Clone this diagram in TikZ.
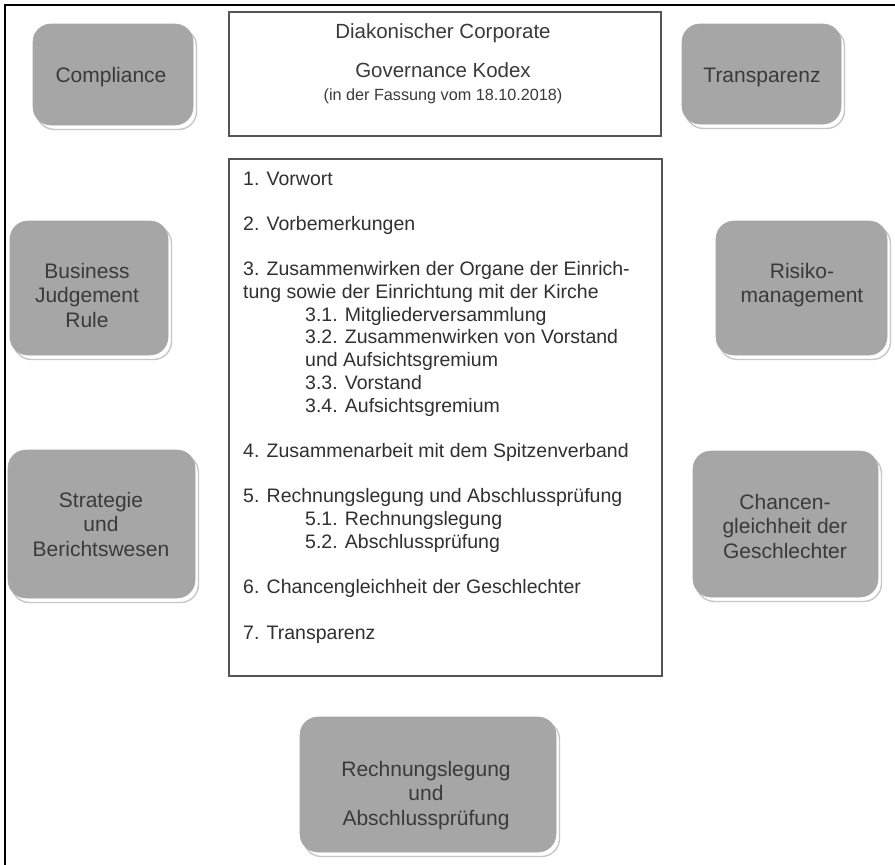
\documentclass[tikz,border=0pt]{standalone}
\usepackage{fontspec}
\setmainfont{Liberation Sans}
\usetikzlibrary{shadows}
\definecolor{boxgray}{HTML}{A6A6A6}
\definecolor{boxtext}{HTML}{3A3A3A}
\definecolor{listtext}{HTML}{303030}
\definecolor{framegray}{HTML}{555555}
\tikzset{
  graybox/.style={rounded corners=18pt, fill=boxgray, draw=black!35, line width=0.6pt,
    inner sep=0pt,
    copy shadow={shadow xshift=3.5pt, shadow yshift=-4.5pt, fill=white, draw=black!22, line width=1.4pt}},
  graylabel/.style={anchor=base, inner sep=0pt, text=boxtext,
    font=\fontsize{21}{24.5}\selectfont},
  whitebox/.style={draw=framegray, line width=1.3pt, fill=white, inner sep=0pt},
  listlabel/.style={anchor=base west, inner sep=0pt, text=listtext,
    font=\fontsize{19.5}{22.7}\selectfont},
}
\begin{document}
\begin{tikzpicture}[x=1pt,y=-1pt]
\useasboundingbox (0,0) rectangle (895,865);
\fill[white] (0,0) rectangle (895,865);
% frame
\coordinate (fbl) at (5,865);
\coordinate (ftl) at (5,5);
\coordinate (ftr) at (895,5);
\draw[line width=2pt, line cap=rect] (fbl) -- (ftl) -- (ftr);

% title box
\node[whitebox, minimum width=432pt, minimum height=124pt] (titlebox) at (445,74) {};
\node[anchor=base, inner sep=0pt, text=boxtext, font=\fontsize{20.5}{24}\selectfont] (title) at (443,38)
  {\begin{tabular}[t]{@{}c@{}}
   Diakonischer Corporate\\[15pt]
   Governance Kodex\\[-1pt]
   \fontsize{16.2}{19}\selectfont (in der Fassung vom 18.10.2018)
   \end{tabular}};

% list box
\node[whitebox, minimum width=433pt, minimum height=517pt] (listbox) at (445.5,417.5) {};
\node[listlabel] (list) at (243,185)
  {\begin{tabular}[t]{@{}l@{}}
   1. Vorwort\\
   \\
   2. Vorbemerkungen\\
   \\
   3. Zusammenwirken der Organe der Einrich-\\
   tung sowie der Einrichtung mit der Kirche\\
   \hspace*{62pt}3.1. Mitgliederversammlung\\
   \hspace*{62pt}3.2. Zusammenwirken von Vorstand\\
   \hspace*{62pt}und Aufsichtsgremium\\
   \hspace*{62pt}3.3. Vorstand\\
   \hspace*{62pt}3.4. Aufsichtsgremium\\
   \\
   4. Zusammenarbeit mit dem Spitzenverband\\
   \\
   5. Rechnungslegung und Abschlussprüfung\\
   \hspace*{62pt}5.1. Rechnungslegung\\
   \hspace*{62pt}5.2. Abschlussprüfung\\
   \\
   6. Chancengleichheit der Geschlechter\\
   \\
   7. Transparenz
   \end{tabular}};

% gray boxes
\node[graybox, minimum width=160pt, minimum height=101pt] (comp) at (113,74.5) {};
\node[graylabel] (comptext) at (111,82) {Compliance};

\node[graybox, minimum width=159pt, minimum height=100pt] (transp) at (761.5,74) {};
\node[graylabel] (transptext) at (762,82) {Transparenz};

\node[graybox, minimum width=158pt, minimum height=134pt] (bjr) at (89,288) {};
\node[graylabel] (bjrtext) at (87,278) {\begin{tabular}[t]{@{}c@{}}Business\\Judgement\\Rule\end{tabular}};

\node[graybox, minimum width=187pt, minimum height=148pt] (strat) at (101.5,524) {};
\node[graylabel] (strattext) at (101,507) {\begin{tabular}[t]{@{}c@{}}Strategie\\und\\Berichtswesen\end{tabular}};

\node[graybox, minimum width=171pt, minimum height=134pt] (risiko) at (801.5,288) {};
\node[graylabel] (risikotext) at (802,278) {\begin{tabular}[t]{@{}c@{}}Risiko-\\management\end{tabular}};

\node[graybox, minimum width=185pt, minimum height=146pt] (chancen) at (785.5,524) {};
\node[graylabel] (chancentext) at (785,509) {\begin{tabular}[t]{@{}c@{}}Chancen-\\gleichheit der\\Geschlechter\end{tabular}};

\node[graybox, minimum width=256pt, minimum height=135pt] (rechn) at (428,784.5) {};
\node[graylabel] (rechntext) at (426,776) {\begin{tabular}[t]{@{}c@{}}Rechnungslegung\\und\\Abschlussprüfung\end{tabular}};
\end{tikzpicture}
\end{document}
